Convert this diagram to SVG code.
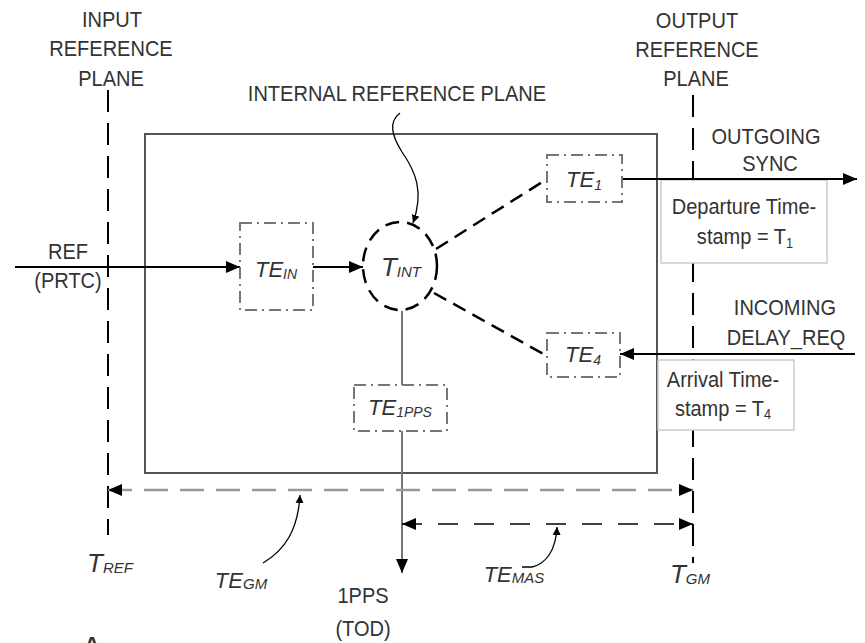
<svg xmlns="http://www.w3.org/2000/svg" width="865" height="643" viewBox="0 0 865 643">
<style>
text{font-family:"Liberation Sans",Arial,sans-serif;fill:#333;}
.t{font-size:22px;text-anchor:middle;transform-box:fill-box;transform-origin:center;transform:scaleX(0.91);}
.it{font-style:italic;font-size:22px;text-anchor:middle;}
.big{font-size:26px;}
.sub{font-size:14px;}
.box{fill:#fff;stroke:#777;stroke-width:2;stroke-dasharray:12 5 2 5;}
.plane{stroke:#000;stroke-width:2;stroke-dasharray:22 11;fill:none;}
.solid{stroke:#000;stroke-width:2;fill:none;}
.grey{stroke:#777;stroke-width:2;fill:none;}
.dash{stroke:#000;stroke-width:2.5;stroke-dasharray:14 8;fill:none;}
.ts{fill:#fff;stroke:#ccc;stroke-width:1.5;}
.ptr{stroke:#000;stroke-width:1.3;fill:none;}
</style>
<defs>
<marker id="ah" markerUnits="userSpaceOnUse" markerWidth="14" markerHeight="12" refX="14" refY="6" orient="auto-start-reverse" viewBox="0 0 14 12">
<path d="M0,0 L14,6 L0,12 z" fill="#000"/>
</marker>
<marker id="sh" markerUnits="userSpaceOnUse" markerWidth="8" markerHeight="10" refX="8" refY="4" orient="auto" viewBox="0 0 8 8">
<path d="M0,0 L8,4 L0,8 z" fill="#000"/>
</marker>
</defs>

<g id="device">
<rect x="145" y="134" width="512" height="339" fill="none" stroke="#555" stroke-width="2"/>
</g>

<g id="planes">
<line class="plane" x1="108" y1="90" x2="108" y2="535"/>
<line class="plane" x1="693" y1="95" x2="693" y2="563"/>
<text class="t" x="112" y="27">INPUT</text>
<text class="t" x="111" y="56">REFERENCE</text>
<text class="t" x="111" y="86">PLANE</text>
<text class="t" x="697" y="28">OUTPUT</text>
<text class="t" x="697" y="57">REFERENCE</text>
<text class="t" x="696" y="86">PLANE</text>
<text class="t" x="397" y="101">INTERNAL REFERENCE PLANE</text>
</g>

<g id="departure">
<rect class="ts" x="661" y="180" width="166" height="83"/>
<text class="t" x="744" y="214">Departure Time-</text>
<text class="t" x="745" y="244">stamp = T<tspan class="sub" dy="4">1</tspan></text>
</g>

<g id="arrival">
<rect class="ts" x="658" y="360" width="136" height="70"/>
<text class="t" x="723" y="387">Arrival Time-</text>
<text class="t" x="723" y="416">stamp = T<tspan class="sub" dy="3">4</tspan></text>
</g>

<g id="connectors">
<line class="solid" x1="15" y1="267" x2="240" y2="267" marker-end="url(#ah)"/>
<line class="solid" x1="313" y1="267" x2="363" y2="267" marker-end="url(#ah)"/>
<line class="dash" x1="436" y1="249" x2="547" y2="179"/>
<line class="dash" x1="434" y1="293" x2="547" y2="356"/>
<line class="solid" x1="622" y1="179" x2="857" y2="179" marker-end="url(#ah)"/>
<line class="solid" x1="855" y1="354" x2="620" y2="354" marker-end="url(#ah)"/>
<line class="grey" x1="402" y1="311" x2="402" y2="385"/>
<line class="grey" x1="402" y1="431" x2="402" y2="573" marker-end="url(#ah)"/>
<line x1="108" y1="490" x2="693" y2="490" stroke="#999" stroke-width="2.5" stroke-dasharray="24 12" marker-start="url(#ah)" marker-end="url(#ah)"/>
<line x1="402" y1="524" x2="693" y2="524" stroke="#000" stroke-width="1.5" stroke-dasharray="20 16" marker-start="url(#ah)" marker-end="url(#ah)"/>
<path class="ptr" d="M400,113 C388,122 392,136 402,152 C416,172 424,192 413,223" marker-end="url(#sh)"/>
<path class="ptr" d="M263,563 C285,550 298,530 300,495" marker-end="url(#sh)"/>
<path class="ptr" d="M522,567 L532,567 C546,564 556,550 557,527" marker-end="url(#sh)"/>
</g>

<g id="te_in">
<rect class="box" x="240" y="223" width="73" height="87"/>
<text class="it" x="276" y="277">TE<tspan class="sub" dy="2">IN</tspan></text>
</g>

<g id="t_int">
<ellipse cx="400" cy="266" rx="37" ry="44" class="dash" fill="#fff"/>
<text class="it" x="401" y="276"><tspan class="big">T</tspan><tspan font-size="15" dy="1">INT</tspan></text>
</g>

<g id="te_1">
<rect class="box" x="547" y="155" width="75" height="47"/>
<text class="it" x="584" y="187">TE<tspan class="sub" dy="3">1</tspan></text>
</g>

<g id="te_4">
<rect class="box" x="547" y="333" width="73" height="44"/>
<text class="it" x="583" y="362">TE<tspan class="sub" dy="3">4</tspan></text>
</g>

<g id="te_1pps">
<rect class="box" x="354" y="385" width="93" height="46"/>
<text class="it" x="400" y="415">TE<tspan class="sub" dy="2">1PPS</tspan></text>
</g>

<g id="labels">
<text class="t" x="68" y="259">REF</text>
<text class="t" x="68" y="288">(PRTC)</text>
<text class="t" x="766" y="144">OUTGOING</text>
<text class="t" x="770" y="171">SYNC</text>
<text class="t" x="785" y="315">INCOMING</text>
<text class="t" x="786" y="345">DELAY_REQ</text>
<text class="t" x="363" y="603">1PPS</text>
<text class="t" x="363" y="636">(TOD)</text>
<text class="it" x="110" y="572"><tspan class="big">T</tspan><tspan font-size="15" dy="1">REF</tspan></text>
<text class="it" x="241" y="588">TE<tspan font-size="15" dy="1">GM</tspan></text>
<text class="it" x="514" y="582">TE<tspan font-size="15" dy="1">MAS</tspan></text>
<text class="it" x="690" y="583"><tspan class="big">T</tspan><tspan font-size="15" dy="1">GM</tspan></text>
<text x="92" y="652" font-size="22" font-weight="bold" text-anchor="middle" fill="#000">A</text>
</g>
</svg>
